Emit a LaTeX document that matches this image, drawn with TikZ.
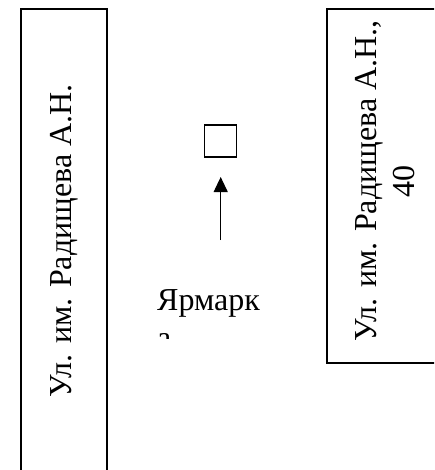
\documentclass[tikz,border=0pt]{standalone}
\usepackage{fontspec}
\setmainfont{Liberation Serif}
\usetikzlibrary{arrows.meta}
\begin{document}
\begin{tikzpicture}[x=1pt,y=-1pt,
  street/.style={draw=black,line width=1.1pt},
  label/.style={font=\fontsize{32}{38}\selectfont,inner sep=0pt},
  pointer/.style={line width=1.1pt,-{Triangle[length=15pt,width=14pt]}}]
\useasboundingbox (0,0) rectangle (434,470);
\clip (0,0) rectangle (434,470);
\fill[white] (0,0) rectangle (434,470);
% left street
\draw[street] (21,9) rectangle (107,480);
\node[label,rotate=90,anchor=base] (lefttext) at (71,241) {Ул. им. Радищева А.Н.};
% right street
\draw[street] (327,9) rectangle (445,363);
\node[label,rotate=90,anchor=center,align=center] (righttext) at (385,181) {Ул. им. Радищева А.Н.,\\40};
% square
\node[draw,line width=1.1pt,minimum width=32pt,minimum height=32pt,inner sep=0pt] (sq) at (220.5,141) {};
\coordinate (tail) at (220.7,240);
\coordinate (tip) at (220.7,177);
\draw[pointer] (tail) -- (tip);
\node[label,anchor=base west] (fair) at (157,310) {Ярмарк};
\begin{scope}
\clip (100,320) rectangle (320,338);
\node[label,anchor=base west] (fairend) at (157,348) {а};
\end{scope}
\end{tikzpicture}
\end{document}
